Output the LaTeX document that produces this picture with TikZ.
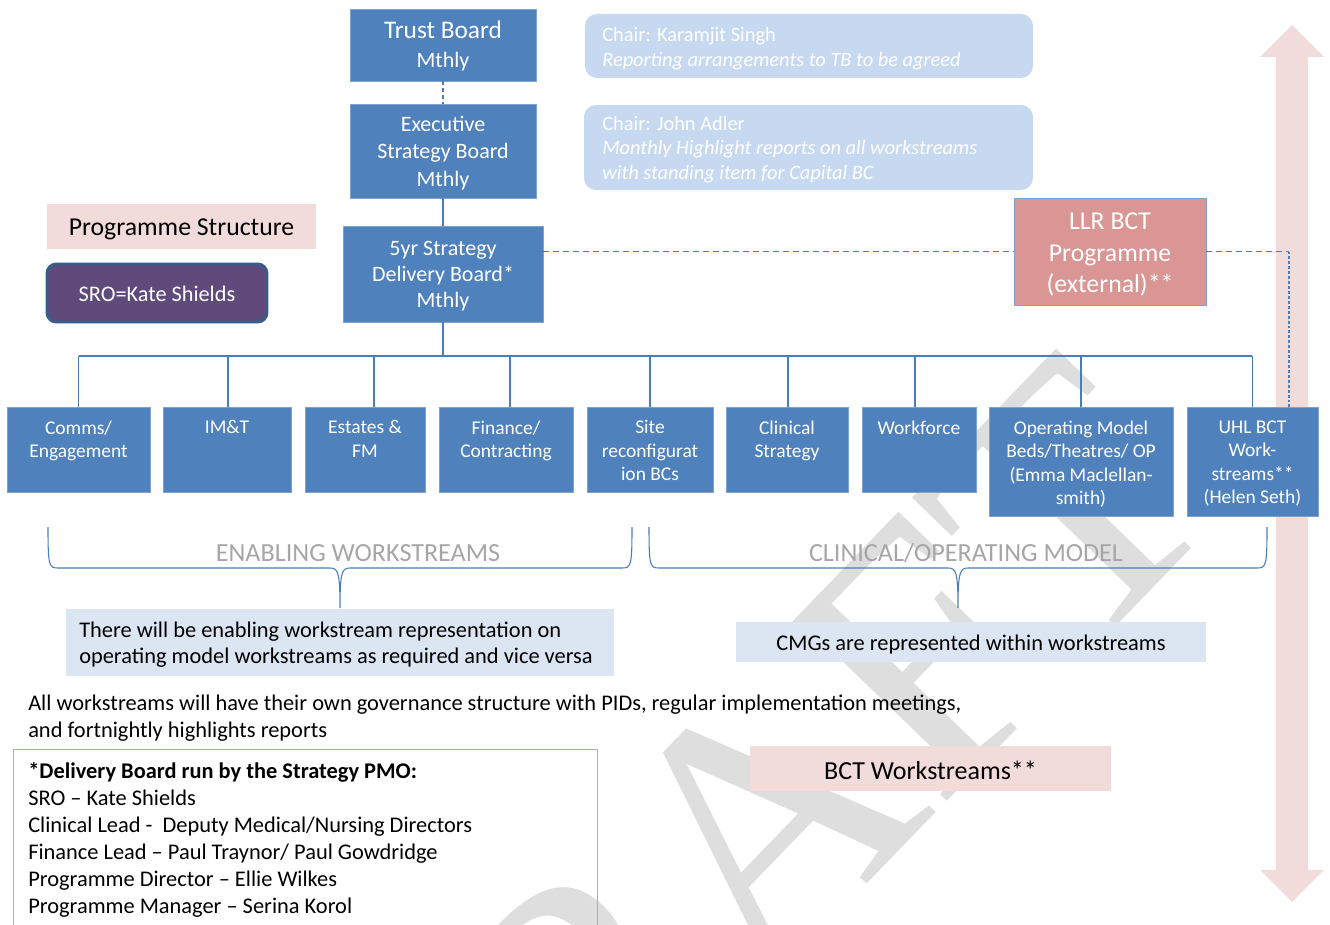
\documentclass[tikz,border=0pt]{standalone}
\usepackage{fontspec}
\setmainfont{Carlito}
\newfontfamily\wmfont{Liberation Serif}
\definecolor{bfill}{HTML}{4F81BD}
\definecolor{bedge}{HTML}{7EA2CF}
\definecolor{bline}{HTML}{4A7EBB}
\definecolor{chairf}{HTML}{C6D9F1}
\definecolor{pinkf}{HTML}{F2DCDB}
\definecolor{llrf}{HTML}{D99694}
\definecolor{srof}{HTML}{604A7B}
\definecolor{srod}{HTML}{385D8A}
\definecolor{notef}{HTML}{DCE6F2}
\definecolor{labgray}{HTML}{A6A6A6}
\definecolor{wmgray}{HTML}{DEDEDE}
\definecolor{boxedge}{HTML}{95B3D7}
\tikzset{
  sz/.style 2 args={minimum width={#1*0.75pt}, minimum height={#2*0.75pt}, inner sep=0pt, outer sep=0pt, anchor=north west},
  bluebox/.style={draw=bedge, fill=bfill, line width=0.6pt, text=white, align=center},
  wstxt/.style={text=white, align=center, anchor=north, inner sep=0pt, font=\fontsize{14.6}{17.6}\selectfont},
  chairbox/.style={fill=chairf, draw=none, rounded corners=9pt},
  chairtxt/.style={text=white, align=left, anchor=west, inner sep=0pt, font=\fontsize{15.3}{18.6}\selectfont},
  pinkbox/.style={fill=pinkf, draw=none},
  notebox/.style={fill=notef, draw=none},
  conn/.style={draw=bline, line width=0.8pt},
  dashconn/.style={draw=bline, line width=0.9pt, dash pattern=on 4.5pt off 3pt},
  dotconn/.style={draw=bline, line width=0.9pt, dash pattern=on 2.2pt off 1.5pt},
  brace/.style={draw=bline, line width=0.8pt},
  graylab/.style={text=labgray, inner sep=0pt, font=\fontsize{19.6}{22}\selectfont},
  bodytxt/.style={text=black, align=left, anchor=west, inner sep=0pt, font=\fontsize{16.8}{20.2}\selectfont},
}
\begin{document}
\begin{tikzpicture}[x=0.75pt,y=-0.75pt]
\useasboundingbox (0,0) rectangle (1330,924);
\fill[white] (0,0) rectangle (1330,924);

% watermark
\node[text=wmgray, rotate=46, inner sep=0pt, font=\wmfont\fontsize{270}{270}\selectfont] (wm) at (735,850) {DRAFT};

% big double arrow
\fill[pinkf] (1292,25) -- (1324,57) -- (1308,57) -- (1308,870) -- (1324,870) -- (1292,902)
  -- (1260,870) -- (1276,870) -- (1276,57) -- (1260,57) -- cycle;

% top boards
\node[bluebox, sz={186}{72}] (tb) at (350,9) {};
\node[text=white, align=center, inner sep=0pt, font=\fontsize{16.5}{21.75}\selectfont] (tbt) at ([yshift=-0.5pt]tb.center) {{\fontsize{19}{21.75}\selectfont Trust Board}\\Mthly};
\node[bluebox, sz={186}{94}] (esb) at (350,104) {};
\node[text=white, align=center, inner sep=0pt, font=\fontsize{16.5}{20.6}\selectfont] (esbt) at ([yshift=-1.5pt]esb.center) {Executive\\Strategy Board\\Mthly};
\node[bluebox, sz={200}{96}] (sdb) at (343,226) {};
\node[text=white, align=center, inner sep=0pt, font=\fontsize{16.5}{19.5}\selectfont] (sdbt) at ([yshift=-1.5pt]sdb.center) {5yr Strategy\\Delivery Board*\\Mthly};

\draw[dashconn, dash pattern=on 3pt off 2.2pt] (tb.south) -- (esb.north);
\draw[conn] (esb.south) -- (sdb.north);

% chair boxes
\node[chairbox, sz={448}{64}] (ch1) at (585,14) {};
\node[chairtxt] (ch1t) at (602,48.5) {Chair: Karamjit Singh\\\textit{Reporting arrangements to TB to be agreed}};
\node[chairbox, sz={449}{85}] (ch2) at (584,105) {};
\node[chairtxt] (ch2t) at (602,149.5) {Chair: John Adler\\\textit{Monthly Highlight reports on all workstreams}\\\textit{with standing item for Capital BC}};

% programme structure + SRO
\node[pinkbox, sz={269}{45}] (ps) at (47,204) {};
\node[inner sep=0pt, font=\fontsize{19.3}{22}\selectfont] (pst) at ([yshift=-2.5pt]ps.center) {Programme Structure};
\node[fill=srof, draw=srod, line width=2.2pt, rounded corners=7pt, sz={220}{58}] (sro) at (47,264) {};
\node[text=white, inner sep=0pt, font=\fontsize{16.7}{20}\selectfont] (srot) at ([yshift=-0.75pt]sro.center) {SRO=Kate Shields};

% LLR
\node[fill=llrf, draw=bedge, line width=0.6pt, sz={192}{107}] (llr) at (1014,198) {};
\node[text=white, align=center, inner sep=0pt, font=\fontsize{19.3}{23.6}\selectfont] (llrt) at ([yshift=-2.2pt]llr.center) {LLR BCT\\Programme\\(external)**};

% workstream boxes
\node[bluebox, sz={143}{85}] (comms) at (7,407) {};
\node[bluebox, sz={128}{85}] (imt) at (163,407) {};
\node[bluebox, sz={120}{85}] (est) at (305,407) {};
\node[bluebox, sz={134}{85}] (fin) at (439,407) {};
\node[bluebox, sz={126}{85}] (site) at (587,407) {};
\node[bluebox, sz={122}{85}] (clin) at (726,407) {};
\node[bluebox, sz={114}{85}] (wf) at (862,407) {};
\node[bluebox, sz={184}{109}] (opm) at (989,407) {};
\node[bluebox, sz={131}{109}] (uhl) at (1187,407) {};

\node[wstxt] at ([yshift=-10pt]comms.north) {Comms/\\Engagement};
\node[wstxt] at ([yshift=-10pt]imt.north) {IM\&T};
\node[wstxt] at ([yshift=-10pt]est.north) {Estates \&\\FM};
\node[wstxt] at ([yshift=-10pt]fin.north) {Finance/\\Contracting};
\node[wstxt] at ([yshift=-10pt]site.north) {Site\\reconfigurat\\ion BCs};
\node[wstxt] at ([yshift=-10pt]clin.north) {Clinical\\Strategy};
\node[wstxt] at ([yshift=-10pt]wf.north) {Workforce};
\node[wstxt] at ([yshift=-10pt]opm.north) {Operating Model\\Beds/Theatres/ OP\\(Emma Maclellan-\\smith)};
\node[wstxt] at ([yshift=-10pt]uhl.north) {UHL BCT\\Work-\\streams**\\(Helen Seth)};

% bus and drops
\coordinate (busl) at (79,356);
\coordinate (busr) at (1252,356);
\draw[conn] (sdb.south) -- (sdb.south |- busl);
\draw[conn] (busl) -- (busr);
\draw[conn] (comms.north |- busl) -- (comms.north);
\draw[conn] ([xshift=0.75pt]imt.north |- busl) -- ([xshift=0.75pt]imt.north);
\draw[conn] ([xshift=6.75pt]est.north |- busl) -- ([xshift=6.75pt]est.north);
\draw[conn] ([xshift=3pt]fin.north |- busl) -- ([xshift=3pt]fin.north);
\draw[conn] (site.north |- busl) -- (site.north);
\draw[conn] ([xshift=0.75pt]clin.north |- busl) -- ([xshift=0.75pt]clin.north);
\draw[conn] ([xshift=-3pt]wf.north |- busl) -- ([xshift=-3pt]wf.north);
\draw[conn] (opm.north |- busl) -- (opm.north);
\draw[conn] (uhl.north |- busl) -- (uhl.north);

% dashed links
\draw[dashconn] (llr.west -| sdb.east) -- (llr.west);
\coordinate (rc) at (1289,251.5);
\draw[dashconn] (llr.east) -- (rc);
\draw[dotconn] (rc) -- (rc |- uhl.north);

% braces
\draw[brace] (48,527) .. controls (48,566) and (49,568) .. (58,568) -- (330,568)
  .. controls (338,568) and (340,572) .. (340,608)
  .. controls (340,572) and (342,568) .. (350,568) -- (622,568)
  .. controls (631,568) and (632,566) .. (632,527);
\draw[brace] (649,527) .. controls (649,566) and (650,568) .. (659,568) -- (948,568)
  .. controls (956,568) and (958,572) .. (958,608)
  .. controls (958,572) and (960,568) .. (968,568) -- (1257,568)
  .. controls (1266,568) and (1267,566) .. (1267,527);
\node[graylab] (enl) at (358,553) {ENABLING WORKSTREAMS};
\node[graylab] (cll) at (966,553) {CLINICAL/OPERATING MODEL};

% notes
\node[notebox, sz={548}{67}] (n1) at (66,609) {};
\node[bodytxt, font=\fontsize{16.8}{19.5}\selectfont] (n1t) at (79,645) {There will be enabling workstream representation on\\operating model workstreams as required and vice versa};
\node[notebox, sz={470}{40}] (n2) at (736,622) {};
\node[text=black, inner sep=0pt, font=\fontsize{16.8}{19.5}\selectfont] (n2t) at ([yshift=-2pt]n2.center) {CMGs are represented within workstreams};

\node[bodytxt] (allw) at (28,718.5) {All workstreams will have their own governance structure with PIDs, regular implementation meetings,\\and fortnightly highlights reports};

% delivery board box
\draw[boxedge, line width=0.75pt] (13,935) -- (13,749) -- (597,749) -- (597,935);
\node[bodytxt] (dbt) at (28,840) {\textbf{*Delivery Board run by the Strategy PMO:}\\SRO -- Kate Shields\\Clinical Lead -\ \ Deputy Medical/Nursing Directors\\Finance Lead -- Paul Traynor/ Paul Gowdridge\\Programme Director -- Ellie Wilkes\\Programme Manager -- Serina Korol};

% BCT workstreams
\node[pinkbox, sz={361}{45}] (bct) at (750,746) {};
\node[inner sep=0pt, font=\fontsize{19.5}{22}\selectfont] (bctt) at ([yshift=-1.5pt]bct.center) {BCT Workstreams**};
\end{tikzpicture}
\end{document}
